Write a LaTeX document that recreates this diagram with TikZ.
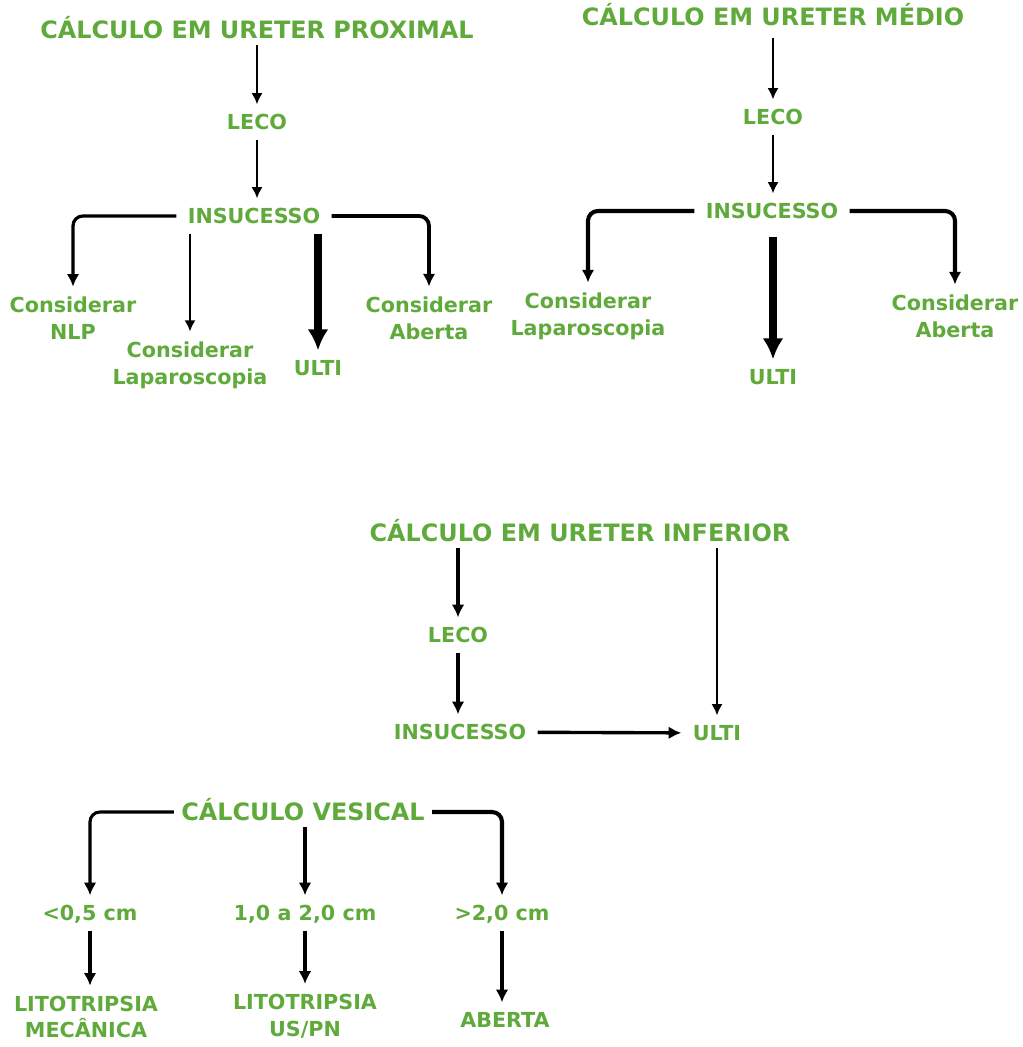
\documentclass[tikz,border=0pt]{standalone}
\usepackage{fontspec}
\setmainfont{DejaVu Sans}
\usepackage{tikz}
\usetikzlibrary{arrows,arrows.meta,positioning}
\definecolor{verde}{RGB}{96,170,60}
\tikzset{
  titulo/.style={text=verde,font=\fontsize{17}{19}\selectfont\bfseries,text height=12.4pt,text depth=0pt,inner xsep=5pt,inner ysep=4.4pt},
  rotulo/.style={text=verde,font=\fontsize{14.7}{19}\selectfont\bfseries,text height=10.7pt,text depth=0pt,inner xsep=8pt,inner ysep=7pt},
  rotulo2/.style={text=verde,font=\fontsize{14.7}{19}\selectfont\bfseries,align=center,inner sep=7pt},
  seta/.style={-{Latex[length=8pt,width=8pt]},line width=1.7pt},
  setam/.style={-{Latex[length=9pt,width=9pt]},line width=2.3pt,rounded corners=7pt},
  setag/.style={-{Latex[length=15pt,width=15pt]},line width=5pt}
}

\begin{document}
\begin{tikzpicture}[x=0.025cm,y=-0.025cm]
\useasboundingbox (0,0) rectangle (1023,1047);
% ureter proximal
\node[titulo] (prox) at (257,30) {CÁLCULO EM URETER PROXIMAL};
\node[rotulo] (leco1) at (257,122) {LECO};
\node[rotulo] (ins1) at (254,216) {INSUCESSO};
\node[rotulo2] (nlp1) at (73,318) {Considerar\\NLP};
\node[rotulo2] (lap1) at (190,365) {Considerar\\Laparoscopia};
\node[rotulo] (ulti1) at (318,368) {ULTI};
\node[rotulo2] (abe1) at (429,318) {Considerar\\Aberta};
\draw[seta] (prox) -- (leco1);
\draw[seta] (leco1) -- (leco1 |- ins1.north);
\draw[setam] (ins1.west) -| (nlp1);
\draw[seta] (lap1 |- ins1.south) -- (lap1);
\draw[setag] (ulti1 |- ins1.south) -- (ulti1);
\draw[setam,line width=2.7pt] (ins1.east) -| (abe1);
% ureter medio
\node[titulo] (med) at (773,17) {CÁLCULO EM URETER MÉDIO};
\node[rotulo] (leco2) at (773,117) {LECO};
\node[rotulo] (ins2) at (772,211) {INSUCESSO};
\node[rotulo2] (lap2) at (588,316) {Considerar\\Laparoscopia};
\node[rotulo] (ulti2) at (773,377) {ULTI};
\node[rotulo2] (abe2) at (955,316) {Considerar\\Aberta};
\draw[seta,shorten <=4pt] (med) -- (leco2);
\draw[seta] (leco2) -- (leco2 |- ins2.north);
\draw[setam,line width=2.9pt] (ins2.west) -| (lap2);
\draw[setag,line width=5.6pt,shorten <=6pt] (ulti2 |- ins2.south) -- (ulti2);
\draw[setam,line width=2.9pt] (ins2.east) -| (abe2);
% ureter inferior
\node[titulo] (inf) at (580,533) {CÁLCULO EM URETER INFERIOR};
\node[rotulo] (leco3) at (458,635) {LECO};
\node[rotulo] (ins3) at (460,732) {INSUCESSO};
\node[rotulo] (ulti3) at (717,733) {ULTI};
\draw[setam,line width=2.2pt] (leco3 |- inf.south) -- (leco3);
\draw[setam,line width=2.2pt] (leco3) -- (leco3 |- ins3.north);
\draw[setam,line width=2.4pt] (ins3) -- (ulti3);
\draw[seta] (ulti3 |- inf.south) -- (ulti3);
% calculo vesical
\node[titulo] (ves) at (303,812) {CÁLCULO VESICAL};
\node[rotulo] (r1) at (90,913) {<0,5 cm};
\node[rotulo] (r2) at (305,913) {1,0 a 2,0 cm};
\node[rotulo] (r3) at (502,913) {>2,0 cm};
\node[rotulo2] (lit1) at (86,1017) {LITOTRIPSIA\\MECÂNICA};
\node[rotulo2] (lit2) at (305,1016) {LITOTRIPSIA\\US/PN};
\node[rotulo] (abe3) at (505,1020) {ABERTA};
\draw[setam,line width=2.2pt] (ves.west) -| (r1);
\draw[setam,line width=2.2pt] (r2 |- ves.south) -- (r2);
\draw[setam,line width=2.9pt] (ves.east) -| (r3);
\draw[setam,line width=2.2pt] (r1) -- (r1 |- lit1.north);
\draw[setam,line width=2.2pt] (r2) -- (r2 |- lit2.north);
\draw[setam,line width=2.2pt] (r3) -- (r3 |- abe3.north);
\end{tikzpicture}
\end{document}
